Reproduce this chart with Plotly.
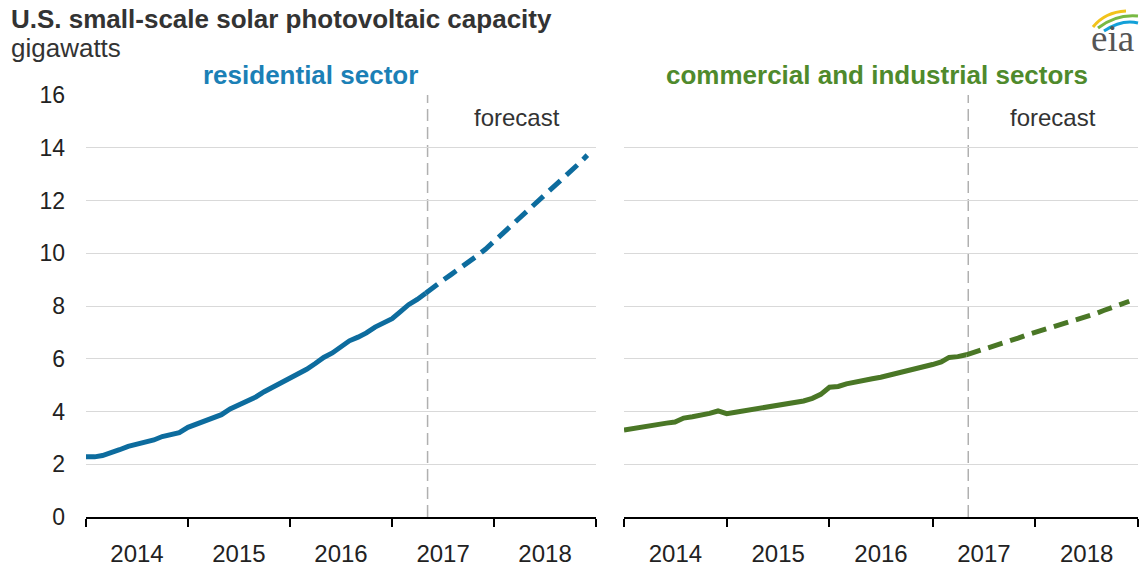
import pandas as pd
import plotly.graph_objects as go

# ---- data (gigawatts, monthly) ----
hist_start = "2014-01-01"
fcst_start = "2017-05-01"
forecast_line_date = "2017-05-08"

residential_hist = [2.28, 2.28, 2.33, 2.42, 2.55, 2.68, 2.75, 2.85, 2.92, 3.05,
                    3.12, 3.20, 3.40, 3.52, 3.62, 3.75, 3.88, 4.10, 4.25, 4.38,
                    4.55, 4.75, 4.92, 5.08, 5.25, 5.45, 5.60, 5.82, 6.05, 6.22,
                    6.45, 6.68, 6.82, 6.98, 7.20, 7.38, 7.52, 7.80, 8.05, 8.25,
                    8.48]
residential_fcst = [8.48, 8.75, 8.97, 9.20, 9.42, 9.65, 9.90, 10.15, 10.45, 10.72,
                    11.00, 11.30, 11.60, 11.92, 12.18, 12.45, 12.78, 13.10, 13.40, 13.72]

commercial_hist = [3.30, 3.36, 3.43, 3.48, 3.52, 3.56, 3.60, 3.75, 3.80, 3.85,
                   3.93, 4.02, 3.92, 3.97, 4.02, 4.05, 4.10, 4.18, 4.25, 4.28,
                   4.32, 4.40, 4.50, 4.65, 4.92, 4.95, 5.05, 5.10, 5.18, 5.24,
                   5.30, 5.38, 5.45, 5.52, 5.58, 5.70, 5.78, 5.88, 6.05, 6.08,
                   6.15]
commercial_fcst = [6.15, 6.25, 6.35, 6.45, 6.55, 6.66, 6.78, 6.90, 7.00, 7.10,
                   7.22, 7.32, 7.40, 7.48, 7.58, 7.70, 7.83, 7.95, 8.07, 8.18]

y_ticks = [0, 2, 4, 6, 8, 10, 12, 14, 16]

hist_months = pd.date_range(hist_start, periods=len(residential_hist), freq="MS")
fcst_months = pd.date_range(fcst_start, periods=len(residential_fcst), freq="MS")

# ---- styles ----
W, H = 1139, 572
L, R, T, B = 0, 0, 95, 55
blue_line = "#0d6c9e"
blue_text = "#1b80b6"
green_line = "#4a7726"
green_text = "#4f8a2c"
font = "Liberation Sans, Arial, sans-serif"
dash = "15px,8px"
lw = 5

def px(x):
    return x / W

def py(y):
    return (H - B - y) / (H - T - B)

fig = go.Figure()
fig.add_trace(go.Scatter(x=hist_months, y=residential_hist, mode="lines",
                         line=dict(color=blue_line, width=lw), xaxis="x", yaxis="y"))
fig.add_trace(go.Scatter(x=fcst_months, y=residential_fcst, mode="lines",
                         line=dict(color=blue_line, width=lw, dash=dash), xaxis="x", yaxis="y"))
fig.add_trace(go.Scatter(x=hist_months, y=commercial_hist, mode="lines",
                         line=dict(color=green_line, width=lw), xaxis="x2", yaxis="y2"))
fig.add_trace(go.Scatter(x=fcst_months, y=commercial_fcst, mode="lines",
                         line=dict(color=green_line, width=lw, dash=dash), xaxis="x2", yaxis="y2"))

xcommon = dict(type="date", range=["2014-01-01", "2019-01-01"], tick0="2014-01-01",
               dtick="M12", tickformat="%Y", ticklabelmode="period",
               showline=True, linecolor="#000", linewidth=1.5,
               ticks="outside", ticklen=8, tickcolor="#000", tickwidth=1.5,
               showgrid=False, zeroline=False, ticklabelstandoff=6,
               tickfont=dict(family=font, size=24, color="#222"))
ycommon = dict(range=[0, 16], tickvals=y_ticks, showgrid=True, gridcolor="#d9d9d9",
               gridwidth=1.2, zeroline=False, showline=False, ticks="",
               tickfont=dict(family=font, size=23, color="#222"))

fig.update_layout(
    width=W, height=H, margin=dict(l=L, r=R, t=T, b=B),
    paper_bgcolor="white", plot_bgcolor="white", showlegend=False,
    xaxis=dict(domain=[px(86), px(596)], anchor="y", **xcommon),
    xaxis2=dict(domain=[px(624), px(1138)], anchor="y2", **xcommon),
    yaxis=dict(domain=[0, 1], anchor="x", ticklabelstandoff=20, **ycommon),
    yaxis2=dict(domain=[0, 1], anchor="x2", showticklabels=False, **ycommon),
)

for xr in ["x", "x2"]:
    fig.add_shape(type="line", xref=xr, yref="paper", x0=forecast_line_date, x1=forecast_line_date,
                  y0=0, y1=1, line=dict(color="#b0b0b0", width=1.5, dash="12px,6px"), layer="below")

ann = []
ann.append(dict(text="<b>U.S. small-scale solar photovoltaic capacity</b>", x=px(9), y=py(19),
                xanchor="left", yanchor="middle", font=dict(family=font, size=26, color="#333")))
ann.append(dict(text="gigawatts", x=px(9), y=py(48), xanchor="left", yanchor="middle",
                font=dict(family=font, size=26, color="#333")))
ann.append(dict(text="<b>residential sector</b>", x=px(310), y=py(75), xanchor="center",
                yanchor="middle", font=dict(family=font, size=26, color=blue_text)))
ann.append(dict(text="<b>commercial and industrial sectors</b>", x=px(877), y=py(75),
                xanchor="center", yanchor="middle", font=dict(family=font, size=26, color=green_text)))
ann.append(dict(text="forecast", x=px(517), y=py(118), xanchor="center", yanchor="middle",
                font=dict(family=font, size=24, color="#333")))
ann.append(dict(text="forecast", x=px(1053), y=py(118), xanchor="center", yanchor="middle",
                font=dict(family=font, size=24, color="#333")))
ann.append(dict(text="eia", x=px(1112), y=py(39), xanchor="center", yanchor="middle",
                font=dict(family="Liberation Serif, Times New Roman, serif", size=37, color="#555")))
for a in ann:
    a.update(xref="paper", yref="paper", showarrow=False)
fig.update_layout(annotations=ann)

# eia logo arcs
arcs = [((1093, 27), (1105, 12), (1126, 11), "#f2c31b"),
        ((1098, 28), (1116, 14), (1138, 16), "#78b943"),
        ((1104, 31), (1122, 19), (1138, 23), "#12a0d8")]
for (x0, y0), (cx, cy), (x1, y1), col in arcs:
    fig.add_shape(type="path", xref="paper", yref="paper",
                  path=f"M {px(x0)},{py(y0)} Q {px(cx)},{py(cy)} {px(x1)},{py(y1)}",
                  line=dict(color=col, width=3))

fig.write_html("out.html", config={"displayModeBar": False},
               post_script="document.body.style.margin='0';document.body.style.overflow='hidden';")
